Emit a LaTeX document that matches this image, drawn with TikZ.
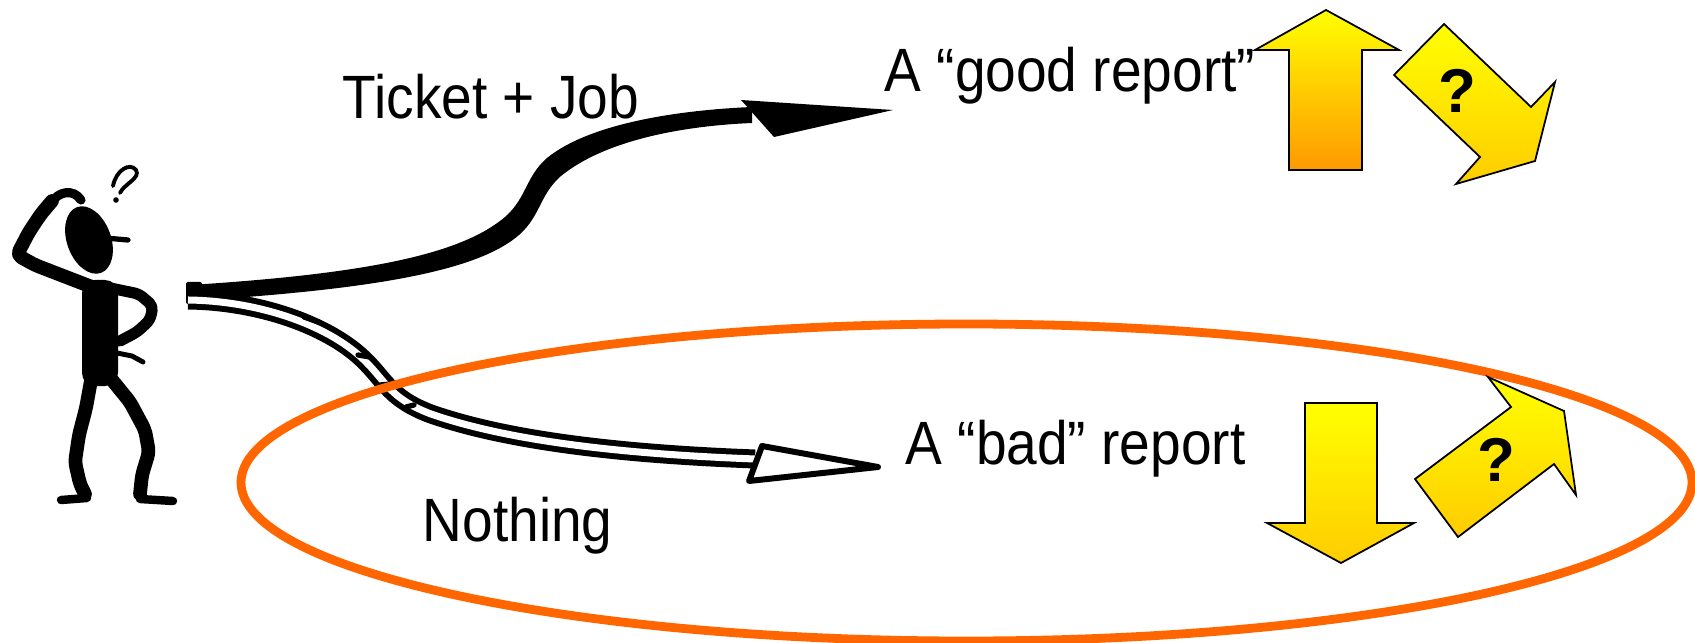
\documentclass[tikz,border=0pt]{standalone}
\usepackage{fontspec}
\setmainfont{Liberation Sans}
\newfontfamily\tallfont[FakeStretch=0.9]{Liberation Sans}
\definecolor{ringorange}{HTML}{FF6600}
\definecolor{arrowgold}{HTML}{FFCC00}
\definecolor{arroworange}{HTML}{FF9900}
\tikzset{
  caption/.style={anchor=base west, inner sep=0pt, font=\tallfont\fontsize{17.4}{20}\selectfont},
  qmark/.style={inner sep=0pt, font=\fontsize{17.6}{20}\selectfont\bfseries},
  limb/.style={line width=3.9pt, line cap=round, line join=round, rounded corners=0.05cm},
  bigarrow/.style={draw=black, line width=0.5pt, line join=miter, top color=yellow}
}
\begin{document}
\begin{tikzpicture}[x=0.01cm, y=-0.01cm]
\useasboundingbox (0,0) rectangle (1695,643);
\fill[rotate around={20:(89,240)}] (89,240) ellipse [x radius=22, y radius=35];
\draw[line width=1.5pt, line cap=round] (105,238) -- (128,240);
\draw[line width=1.1pt, line cap=round] (113,186) .. controls (116,170) and (130,162) .. (136,170) .. controls (141,178) and (124,184) .. (120,193);
\fill (116,200) circle [radius=2.8];
\fill[rounded corners=0.13cm] (82,280) rectangle (118,386);
\draw[limb] (92,287) -- (35,265) -- (17,255) -- (29,232) -- (41,214) -- (52,201);
\draw[limb, line width=2.6pt] (52,202) .. controls (58,192) and (73,188) .. (81,200);
\draw[limb, line width=3.2pt] (110,288) -- (139,294) -- (153,306) -- (150,320) -- (137,332) -- (120,341);
\draw[line width=1.4pt, line cap=round] (117,353) -- (132,356) -- (143,362);
\draw[limb] (92,375) -- (86,408) -- (79,435) -- (75,462) -- (80,484) -- (85,494);
\draw[limb] (108,375) -- (130,402) -- (145,430) -- (149,452) -- (142,475) -- (140,494);
\draw[line width=2.4pt, line cap=round] (87,498) -- (61,500);
\draw[line width=2.4pt, line cap=round] (140,499) -- (173,501);
\node[caption] (ticket) at (342,119) {Ticket + Job};
\node[caption] (good) at (884,92) {A “good report”};
\node[caption] (bad) at (905,464) {A “bad” report};
\node[caption] (nothing) at (422,541) {Nothing};
\coordinate (jobtop) at (190,285);
\coordinate (jobbottom) at (190,301);
\coordinate (jobendtop) at (752,107);
\coordinate (jobendbottom) at (752,123);
\fill[rounded corners=0.02cm] (186,282) rectangle (202,304);
\fill (jobtop) .. controls (364,274) and (455,255) .. (500,221) .. controls (527,201) and (524,178) .. (547,158) .. controls (590,123) and (680,110) .. (jobendtop) -- (jobendbottom) .. controls (680,126) and (604,141) .. (561,176) .. controls (538,196) and (541,219) .. (514,239) .. controls (469,273) and (364,290) .. (jobbottom) -- cycle;
\fill[line join=round] (741,100) -- (893,110) -- (774,137) -- cycle;
\coordinate (nilstart) at (188,300);
\coordinate (nilend) at (755,459);
\draw[line width=1.7pt, double=white, double distance=2pt] (nilstart) .. controls (262,301) and (332,327) .. (366,362) .. controls (386,382) and (391,399) .. (431,414) .. controls (520,445) and (650,455) .. (nilend);
\draw[line width=1.5pt, line cap=round] (304,317) -- (318,322) (358,355) -- (370,357) (380,385) -- (390,384) (406,407) -- (414,405);
\draw[line width=1.7pt, fill=white, line join=round] (762,446) -- (878,467) -- (749,481) -- cycle;
\draw[line width=2.5pt, ringorange] (966.5,482.5) ellipse [x radius=725.5, y radius=158.5];
\shadedraw[bigarrow, bottom color=arroworange] (1326,10) -- (1399,50) -- (1362,50) -- (1362,170) -- (1289,170) -- (1289,50) -- (1255,50) -- cycle;
\shadedraw[bigarrow, bottom color=arrowgold] (1394,75) -- (1444,24) -- (1531,107) -- (1555,82) -- (1535,161) -- (1456,184) -- (1480,157) -- cycle;
\node[qmark] (upq) at (1457,91) {?};
\shadedraw[bigarrow, bottom color=arrowgold] (1305,403) -- (1377,403) -- (1377,523) -- (1414,523) -- (1341,563) -- (1267,523) -- (1305,523) -- cycle;
\shadedraw[bigarrow, bottom color=arrowgold] (1415,479) -- (1511,407) -- (1488,377) -- (1564,411) -- (1576,495) -- (1554,464) -- (1458,537) -- cycle;
\node[qmark] (downq) at (1496,460) {?};
\end{tikzpicture}
\end{document}
